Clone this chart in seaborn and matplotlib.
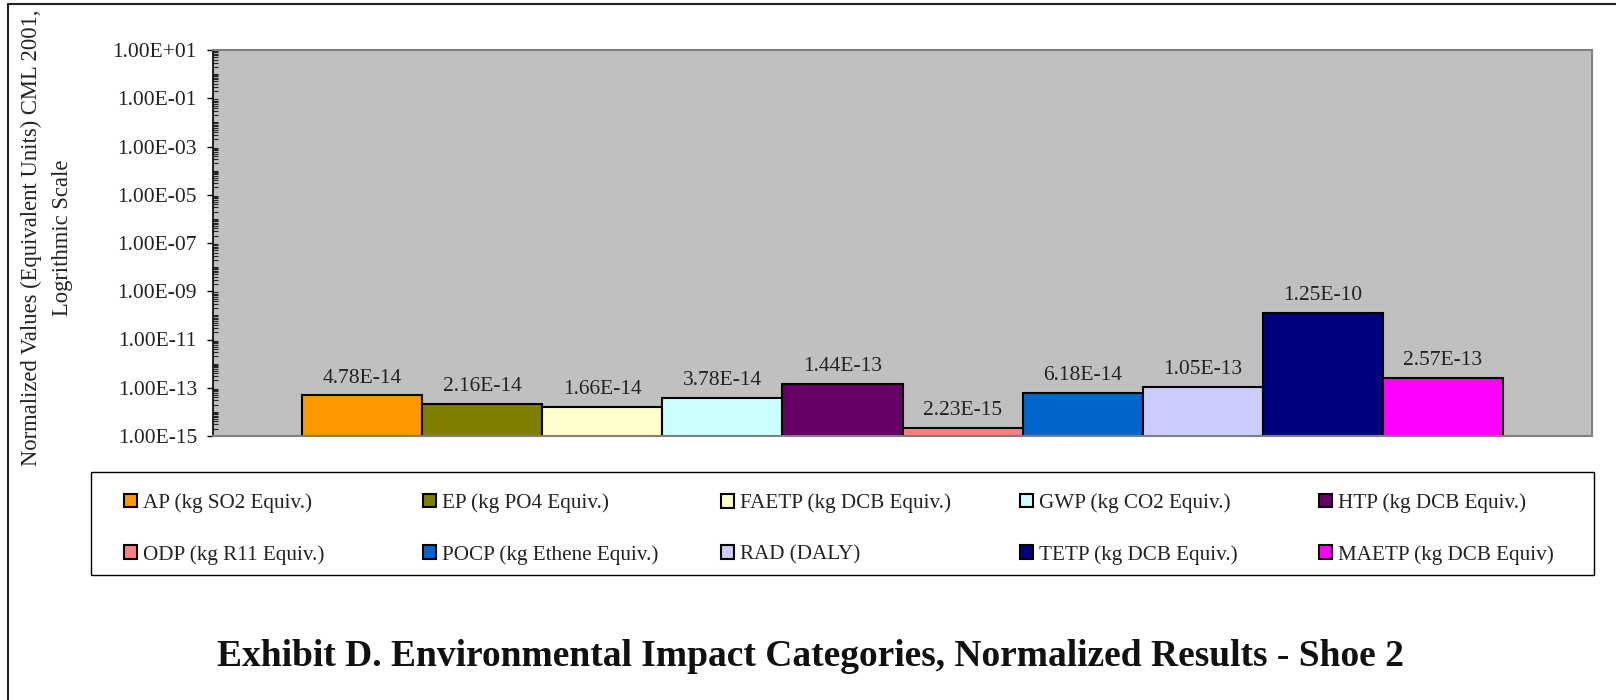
import numpy as np
import pandas as pd
import matplotlib
matplotlib.use("Agg")
import matplotlib.pyplot as plt
import seaborn as sns
from matplotlib.lines import Line2D
from matplotlib.patches import Patch, Rectangle
from matplotlib.ticker import FixedLocator, LogLocator, FuncFormatter, NullFormatter

# 데이터
categories = ["AP (kg SO2 Equiv.)", "EP (kg PO4 Equiv.)", "FAETP (kg DCB Equiv.)",
              "GWP (kg CO2 Equiv.)", "HTP (kg DCB Equiv.)", "ODP (kg R11 Equiv.)",
              "POCP (kg Ethene Equiv.)", "RAD (DALY)", "TETP (kg DCB Equiv.)",
              "MAETP (kg DCB Equiv)"]
values = [4.78e-14, 2.16e-14, 1.66e-14, 3.78e-14, 1.44e-13,
          2.23e-15, 6.18e-14, 1.05e-13, 1.25e-10, 2.57e-13]
value_labels = ["4.78E-14", "2.16E-14", "1.66E-14", "3.78E-14", "1.44E-13",
                "2.23E-15", "6.18E-14", "1.05E-13", "1.25E-10", "2.57E-13"]
colors = ["#FF9900", "#808000", "#FFFFCC", "#CCFFFF", "#660066",
          "#FF8080", "#0066CC", "#CCCCFF", "#000080", "#FF00FF"]
ytick_exponents = [-15, -13, -11, -9, -7, -5, -3, -1, 1]

df = pd.DataFrame({"cat": categories, "val": values})

sns.set_style("white")
plt.rcParams["font.family"] = ["Liberation Serif", "DejaVu Serif"]

W, H = 1616, 700
fig = plt.figure(figsize=(W / 100, H / 100), dpi=100)
ax = fig.add_axes([213 / W, 1 - 436 / H, (1592 - 213) / W, (436 - 50) / H])
ax.set_yscale("log")

sns.barplot(data=df, x="cat", y="val", hue="cat", palette=colors, width=1.0,
            saturation=1, edgecolor="black", linewidth=1.5, legend=False, ax=ax)

ax.set_facecolor("#C0C0C0")
ax.set_ylim(1e-15, 1e1)
ax.set_xlim(-0.5 - 0.74, 9.5 + 0.74)
ax.set_xticks([])
ax.set_xlabel("")
ax.set_ylabel("")

# 막대 위 값 표시
for bar, lab in zip(ax.patches, value_labels):
    ax.annotate(lab, (bar.get_x() + bar.get_width() / 2, bar.get_height()),
                xytext=(0, 12.5), textcoords="offset points", ha="center", va="center",
                fontsize=15.5, color="#222222")

# y축 눈금
ax.yaxis.set_major_locator(FixedLocator([10.0 ** e for e in ytick_exponents]))
ax.yaxis.set_major_formatter(FuncFormatter(lambda v, p: f"{v:.2E}"))
ax.yaxis.set_minor_locator(LogLocator(base=10, subs=np.arange(1, 10), numticks=100))
ax.yaxis.set_minor_formatter(NullFormatter())
ax.tick_params(axis="y", which="major", direction="out", length=4.5, width=1,
               labelsize=15.5, pad=7, colors="black", left=True)
ax.tick_params(axis="y", which="minor", direction="in", length=3.6, width=0.8, left=True)
for lab in ax.get_yticklabels():
    lab.set_color("#222222")

fig.text(47 / W, 1 - 238 / H,
         "Normalized Values (Equivalent Units) CML 2001,\nLogrithmic Scale",
         rotation=90, ha="center", va="center", multialignment="center",
         fontsize=16.3, color="#222222", linespacing=1.65)

for s in ["top", "right", "bottom"]:
    ax.spines[s].set_color("#808080")
    ax.spines[s].set_linewidth(1.5)
ax.spines["left"].set_color("black")
ax.spines["left"].set_linewidth(1.2)

# 범례: 5개 열, 행 우선 순서
handles = [Patch(facecolor=c, edgecolor="black", linewidth=1.5) for c in colors]
col_x = [124, 423, 721, 1020, 1319]
for j, x in enumerate(col_x):
    lg = fig.legend([handles[j], handles[j + 5]], [categories[j], categories[j + 5]],
                    loc="center left", bbox_to_anchor=(x / W, 1 - 529 / H),
                    fontsize=15.2, frameon=False, borderaxespad=0, borderpad=0,
                    handlelength=0.6, handleheight=0.6, handletextpad=0.3,
                    labelspacing=1.5)
    for t in lg.get_texts():
        t.set_color("#222222")

fig.add_artist(Rectangle((91 / W, 1 - 575 / H), (1594 - 91) / W, (575 - 472) / H,
                         transform=fig.transFigure, fill=False,
                         edgecolor="black", linewidth=1.0))

fig.text(811 / W, 1 - 657 / H,
         "Exhibit D. Environmental Impact Categories, Normalized Results - Shoe 2",
         ha="center", va="center", fontsize=27, fontweight="bold", color="#111111")

# 테두리
fig.add_artist(Line2D([8 / W, 8 / W], [0, 1 - 4 / H], color="#222222", lw=1.5))
fig.add_artist(Line2D([8 / W, 1], [1 - 4 / H, 1 - 4 / H], color="#222222", lw=1.5))

fig.savefig("out.png", dpi=100)
